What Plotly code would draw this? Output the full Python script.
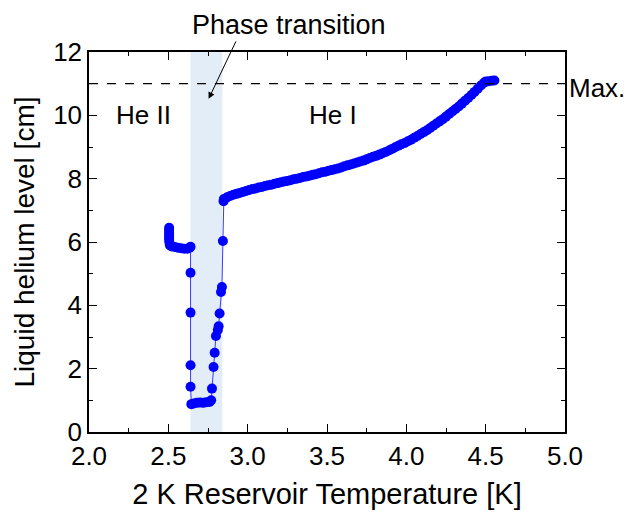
import plotly.graph_objects as go

# He II region (before transition)
t_he2 = [2.505, 2.505, 2.505, 2.505, 2.505, 2.505, 2.507, 2.51, 2.52, 2.54, 2.56, 2.58, 2.60, 2.62, 2.635, 2.64]
l_he2 = [6.45, 6.38, 6.30, 6.22, 6.14, 6.06, 5.98, 5.90, 5.86, 5.84, 5.82, 5.80, 5.79, 5.79, 5.82, 5.85]

# Transition region (drop and recovery)
t_tr = [2.640, 2.640, 2.640, 2.640, 2.645, 2.66, 2.68, 2.70, 2.72, 2.74, 2.76, 2.77,
        2.775, 2.785, 2.792, 2.800, 2.812, 2.817, 2.823, 2.832, 2.838, 2.844, 2.848]
l_tr = [5.03, 3.77, 2.11, 1.43, 0.88, 0.90, 0.92, 0.93, 0.92, 0.94, 0.95, 1.00,
        1.37, 2.05, 2.50, 3.03, 3.22, 3.34, 3.74, 4.42, 4.58, 6.03, 7.29]

# He I region (after transition)
t_he1 = [2.85, 2.87, 2.89, 2.91, 2.93, 2.95, 2.97, 2.99, 3.01, 3.03, 3.05, 3.07, 3.09,
         3.11, 3.13, 3.15, 3.17, 3.19, 3.21, 3.23, 3.25, 3.27, 3.29, 3.31, 3.33, 3.35,
         3.37, 3.39, 3.41, 3.43, 3.45, 3.47, 3.49, 3.51, 3.53, 3.55, 3.57, 3.59, 3.61,
         3.63, 3.65, 3.67, 3.69, 3.71, 3.73, 3.75, 3.77, 3.79, 3.81, 3.83, 3.85, 3.87,
         3.89, 3.91, 3.93, 3.95, 3.97, 3.99, 4.01, 4.03, 4.05, 4.07, 4.09, 4.11, 4.13,
         4.15, 4.17, 4.19, 4.21, 4.23, 4.25, 4.27, 4.29, 4.31, 4.33, 4.35, 4.37, 4.39,
         4.41, 4.43, 4.45, 4.47, 4.49, 4.50, 4.52, 4.54, 4.555]
l_he1 = [7.36, 7.41, 7.45, 7.49, 7.52, 7.55, 7.58, 7.61, 7.64, 7.67, 7.69, 7.72, 7.74,
         7.77, 7.79, 7.81, 7.84, 7.86, 7.89, 7.91, 7.93, 7.95, 7.98, 8.00, 8.02, 8.05,
         8.07, 8.09, 8.12, 8.14, 8.17, 8.20, 8.22, 8.25, 8.27, 8.30, 8.32, 8.35, 8.39,
         8.42, 8.45, 8.48, 8.51, 8.54, 8.57, 8.61, 8.65, 8.69, 8.72, 8.76, 8.80, 8.84,
         8.89, 8.94, 8.99, 9.04, 9.09, 9.13, 9.18, 9.23, 9.29, 9.35, 9.41, 9.47, 9.53,
         9.60, 9.67, 9.74, 9.81, 9.88, 9.96, 10.04, 10.12, 10.20, 10.28, 10.37, 10.46, 10.55,
         10.64, 10.74, 10.84, 10.94, 11.03, 11.07, 11.08, 11.09, 11.10]

max_level = 11.0
transition_range = [2.64, 2.84]

temps = t_he2 + t_tr + t_he1
levels = l_he2 + l_tr + l_he1

FONT = "Liberation Sans, Arial, sans-serif"
FS = 26

fig = go.Figure()
fig.add_trace(go.Scatter(
    x=temps, y=levels, mode="lines+markers",
    line=dict(color="#3a3aff", width=1),
    marker=dict(color="#0000ff", size=10, line=dict(width=0)),
    showlegend=False,
))

fig.add_shape(type="rect", xref="x", yref="y",
              x0=transition_range[0], x1=transition_range[1], y0=0, y1=12,
              fillcolor="#e3edf8", line=dict(width=0), layer="below")
fig.add_shape(type="line", xref="paper", yref="y", x0=0, x1=1,
              y0=max_level, y1=max_level,
              line=dict(color="black", width=1.3, dash="dash"))

fig.add_annotation(x=1.0, xref="paper", xanchor="left", xshift=2, y=max_level - 0.15, yref="y",
                   yanchor="middle",
                   text="Max.", showarrow=False, font=dict(size=FS, color="black", family=FONT))
fig.add_annotation(x=2.345, y=10.0, text="He II", showarrow=False,
                   font=dict(size=FS, color="black", family=FONT))
fig.add_annotation(x=3.54, y=10.0, text="He I", showarrow=False,
                   font=dict(size=FS, color="black", family=FONT))
fig.add_annotation(x=2.754, y=10.52, ax=28, ay=-59,
                   text="", showarrow=True, arrowhead=2, arrowsize=1.3, arrowwidth=1,
                   arrowcolor="black")
fig.add_annotation(x=0.42, y=1.072, xref="paper", yref="paper", xanchor="center", yanchor="middle",
                   text="Phase transition",
                   showarrow=False, font=dict(size=27, color="black", family=FONT))

fig.update_layout(
    width=625, height=506,
    margin=dict(l=81, r=68, t=44, b=82),
    plot_bgcolor="white", paper_bgcolor="white",
    font=dict(family=FONT, size=FS, color="black"),
)
fig.update_xaxes(range=[2.0, 5.0], dtick=0.5, tickformat=".1f", automargin=False,
                 showgrid=False, zeroline=False,
                 showline=True, linecolor="black", linewidth=1.5, mirror="ticks",
                 ticks="inside", ticklen=8, tickwidth=1.2, tickcolor="black",
                 minor=dict(dtick=0.25, ticks="inside", ticklen=4.5, tickwidth=1.2, tickcolor="black"),
                 title=dict(text="2 K Reservoir Temperature [K]", font=dict(size=29), standoff=14),
                 tickfont=dict(size=FS))
fig.update_yaxes(range=[0, 12], dtick=2, automargin=False,
                 showgrid=False, zeroline=False,
                 showline=True, linecolor="black", linewidth=1.5, mirror="ticks",
                 ticks="inside", ticklen=8, tickwidth=1.2, tickcolor="black",
                 minor=dict(dtick=1, ticks="inside", ticklen=4.5, tickwidth=1.2, tickcolor="black"),
                 title=dict(text="Liquid helium level [cm]", font=dict(size=28), standoff=10),
                 tickfont=dict(size=FS))

fig.write_html("out.html")
